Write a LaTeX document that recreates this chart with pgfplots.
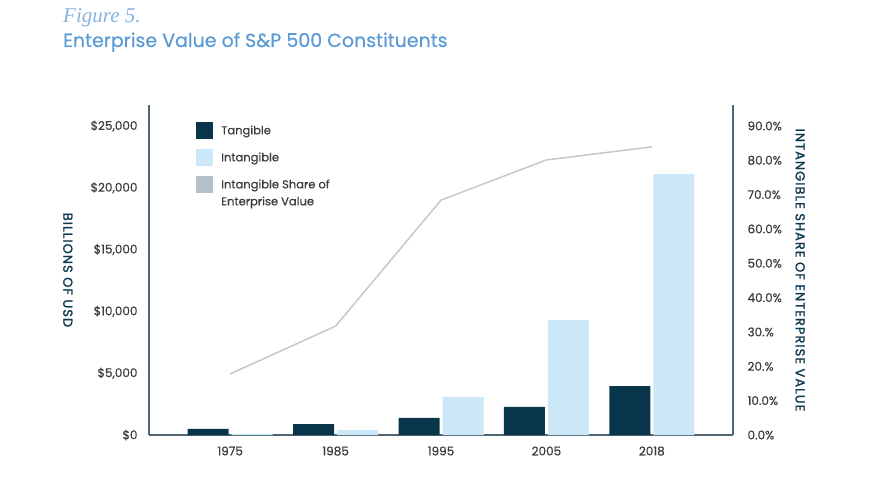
\documentclass[border=0pt]{standalone}
\usepackage{pgfplots}
\pgfplotsset{compat=1.18}
\usepackage{fontspec}
\setmainfont{Poppins}
\newfontfamily\medfont{Poppins}[FakeBold=0.5]
\newfontfamily\labelfont{Poppins}[FakeBold=1.5, LetterSpace=8]
\newfontfamily\serifit{Liberation Serif}

\definecolor{tang}{HTML}{08354A}
\definecolor{intang}{HTML}{CCE7F7}
\definecolor{shareline}{HTML}{C8C8C8}
\definecolor{sharekey}{HTML}{B5C0C8}
\definecolor{axisc}{HTML}{4F6573}
\definecolor{ticktext}{HTML}{3B3B3B}
\definecolor{titlec}{HTML}{5B9BD5}
\definecolor{labelc}{HTML}{0F3A52}

\pgfplotsset{
  common/.style={
    scale only axis,
    width=584pt, height=330pt,
    at={(149pt,58pt)}, anchor=south west,
    xmin=-0.77, xmax=4.77,
    major tick length=0pt,
    scaled y ticks=false,
    axis line style={axisc, line width=1.1pt, -},
    tick label style={font=\medfont\fontsize{12}{13}\selectfont, text=ticktext},
    ylabel style={font=\labelfont\fontsize{13}{14}\selectfont, text=labelc, rotate=180, anchor=center},
  },
}

\begin{document}
\begin{tikzpicture}[x=1pt,y=1pt]
\useasboundingbox (0,0) rectangle (888,493);

\node[anchor=base west, inner sep=0, text=titlec!75,
      font=\serifit\itshape\fontsize{21}{21}\selectfont] at (63,470) {Figure 5.};
\node[anchor=base west, inner sep=0, text=titlec,
      font=\medfont\fontsize{19}{19}\selectfont] at (63,446) {Enterprise Value of S\&P 500 Constituents};

% bars (billions of USD)
\begin{axis}[
    common,
    ybar=3pt, bar width=41pt,
    ymin=0, ymax=26700,
    axis x line*=bottom, axis y line*=left,
    xtick={0,1,2,3,4},
    xticklabels={1975,1985,1995,2005,2018},
    xticklabel style={yshift=-8pt},
    ytick={0,5000,10000,15000,20000,25000},
    yticklabels={\$0,\$5{,}000,\$10{,}000,\$15{,}000,\$20{,}000,\$25{,}000},
    yticklabel style={xshift=-8pt},
    ylabel={BILLIONS OF USD},
    ylabel style={at={(axis description cs:-0.139,0.5)}},
    legend cell align=left,
    legend style={
      at={(axis description cs:0.0805,0.95)}, anchor=north west,
      draw=none, fill=none, inner sep=0pt, row sep=10pt,
      font=\medfont\fontsize{11.5}{17}\selectfont, text=ticktext,
      cells={align=left},
      /tikz/every odd column/.append style={column sep=6pt},
    },
    legend image code/.code={\path[#1, draw=none] (0pt,-8pt) rectangle (17pt,9pt);},
  ]
  \addplot[fill=tang, draw=none] coordinates {
    (0,490) (1,890) (2,1380) (3,2270) (4,3960)
  };
  \addplot[fill=intang, draw=none] coordinates {
    (0,110) (1,400) (2,3080) (3,9300) (4,21100)
  };
  \addlegendimage{fill=sharekey, draw=none, yshift=8.5pt}
  \legend{Tangible, Intangible, {Intangible Share of\\Enterprise Value}}
\end{axis}

% line (intangible share, %)
\begin{axis}[
    common,
    ymin=0, ymax=96.1,
    axis x line=none, axis y line*=right,
    ytick={0,10,20,30,40,50,60,70,80,90},
    yticklabels={0.0\%,10.0\%,20.\%,30.\%,40.0\%,50.0\%,60.0\%,70.0\%,80.0\%,90.0\%},
    yticklabel style={xshift=11pt},
    ylabel={INTANGIBLE SHARE OF ENTERPRISE VALUE},
    ylabel style={at={(axis description cs:1.115,0.5)}},
  ]
  \addplot[shareline, line width=1.5pt] coordinates {
    (0,17.8) (1,31.7) (2,68.4) (3,80.1) (4,83.9)
  };
\end{axis}
\end{tikzpicture}
\end{document}
